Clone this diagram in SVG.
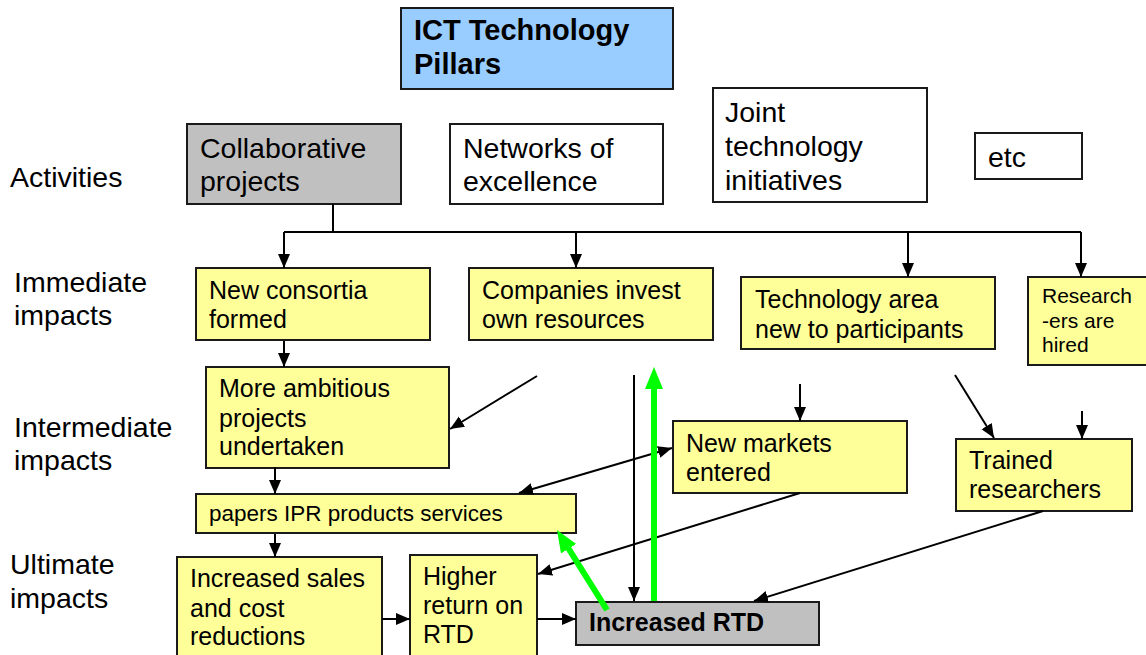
<svg xmlns="http://www.w3.org/2000/svg" width="1146" height="655" viewBox="0 0 1146 655">
<style>
  text { font-family: "Liberation Sans", Arial, sans-serif; fill: #000; }
  .lbl { font-size: 28.5px; }
  .act { font-size: 28.5px; }
  .ttl { font-size: 29px; font-weight: bold; }
  .imp { font-size: 25px; }
  .sm { font-size: 21px; }
  .pap { font-size: 22.5px; }
  .bold { font-weight: bold; }
  .box { stroke: #1a1a1a; stroke-width: 2; }
  .white { fill: #ffffff; }
  .yellow { fill: #ffff99; }
  .gray { fill: #c0c0c0; }
  .blue { fill: #99ccff; }
  .conn { stroke: #000; stroke-width: 2; fill: none; }
  .arr { marker-end: url(#ah); }
  .green { stroke: #00ff00; stroke-width: 6; fill: none; marker-end: url(#gh); }
</style>
<defs>
  <marker id="ah" markerUnits="userSpaceOnUse" markerWidth="15" markerHeight="13" refX="14" refY="6" orient="auto-start-reverse" viewBox="0 0 15 13">
    <path d="M0,0 L14,6 L0,12 z" fill="#000"/>
  </marker>
  <marker id="gh" markerUnits="userSpaceOnUse" markerWidth="24" markerHeight="20" refX="8" refY="9" orient="auto" viewBox="0 0 24 20">
    <path d="M0,0 L22,9 L0,18 z" fill="#00ff00"/>
  </marker>
</defs>

<g id="row-labels">
  <text class="lbl" x="10" y="187">Activities</text>
  <text class="lbl" x="14" y="292">Immediate</text>
  <text class="lbl" x="14" y="325">impacts</text>
  <text class="lbl" x="14" y="437">Intermediate</text>
  <text class="lbl" x="14" y="470">impacts</text>
  <text class="lbl" x="10" y="574">Ultimate</text>
  <text class="lbl" x="10" y="608">impacts</text>
</g>

<g id="title">
  <rect class="box blue" x="401" y="8" width="272" height="81"/>
  <text class="ttl" x="414" y="40">ICT Technology</text>
  <text class="ttl" x="414" y="74">Pillars</text>
</g>

<g id="collaborative">
  <rect class="box gray" x="187" y="124" width="214" height="80"/>
  <text class="act" x="200" y="158">Collaborative</text>
  <text class="act" x="200" y="191">projects</text>
</g>

<g id="networks">
  <rect class="box white" x="450" y="124" width="213" height="80"/>
  <text class="act" x="463" y="158">Networks of</text>
  <text class="act" x="463" y="191">excellence</text>
</g>

<g id="joint">
  <rect class="box white" x="713" y="88" width="214" height="114"/>
  <text class="act" x="725" y="122">Joint</text>
  <text class="act" x="725" y="156">technology</text>
  <text class="act" x="725" y="190">initiatives</text>
</g>

<g id="etc">
  <rect class="box white" x="975" y="133" width="107" height="46"/>
  <text class="act" x="988" y="167">etc</text>
</g>

<g id="new-consortia">
  <rect class="box yellow" x="196" y="268" width="234" height="72"/>
  <text class="imp" x="209" y="299">New consortia</text>
  <text class="imp" x="209" y="328">formed</text>
</g>

<g id="companies">
  <rect class="box yellow" x="469" y="268" width="244" height="72"/>
  <text class="imp" x="482" y="299">Companies invest</text>
  <text class="imp" x="482" y="328">own resources</text>
</g>

<g id="technology-area">
  <rect class="box yellow" x="741" y="277" width="254" height="72"/>
  <text class="imp" x="755" y="308">Technology area</text>
  <text class="imp" x="755" y="338">new to participants</text>
</g>

<g id="researchers-hired">
  <rect class="box yellow" x="1028" y="277" width="122" height="88"/>
  <text class="sm" x="1042" y="303">Research</text>
  <text class="sm" x="1042" y="328">-ers are</text>
  <text class="sm" x="1042" y="352">hired</text>
</g>

<g id="more-ambitious">
  <rect class="box yellow" x="206" y="367" width="243" height="101"/>
  <text class="imp" x="219" y="397">More ambitious</text>
  <text class="imp" x="219" y="427">projects</text>
  <text class="imp" x="219" y="455">undertaken</text>
</g>

<g id="new-markets">
  <rect class="box yellow" x="673" y="421" width="234" height="72"/>
  <text class="imp" x="686" y="452">New markets</text>
  <text class="imp" x="686" y="481">entered</text>
</g>

<g id="trained">
  <rect class="box yellow" x="956" y="439" width="176" height="72"/>
  <text class="imp" x="969" y="469">Trained</text>
  <text class="imp" x="969" y="498">researchers</text>
</g>

<g id="papers">
  <rect class="box yellow" x="196" y="494" width="380" height="39"/>
  <text class="pap" x="209" y="521">papers IPR products services</text>
</g>

<g id="increased-sales">
  <rect class="box yellow" x="177" y="557" width="205" height="105"/>
  <text class="imp" x="190" y="587">Increased sales</text>
  <text class="imp" x="190" y="617">and cost</text>
  <text class="imp" x="190" y="645">reductions</text>
</g>

<g id="higher-return">
  <rect class="box yellow" x="410" y="555" width="127" height="107"/>
  <text class="imp" x="423" y="585">Higher</text>
  <text class="imp" x="423" y="614">return on</text>
  <text class="imp" x="423" y="643">RTD</text>
</g>

<g id="increased-rtd">
  <rect class="box gray" x="576" y="602" width="243" height="43"/>
  <text class="imp bold" x="589" y="631">Increased RTD</text>
</g>

<g id="connectors">
  <path class="conn" d="M333,204 V232 M284,232 H1081"/>
  <line class="conn arr" x1="284" y1="232" x2="284" y2="268"/>
  <line class="conn arr" x1="576" y1="232" x2="576" y2="268"/>
  <line class="conn arr" x1="908" y1="232" x2="908" y2="277"/>
  <line class="conn arr" x1="1081" y1="232" x2="1081" y2="277"/>
  <line class="conn arr" x1="284" y1="341" x2="284" y2="367"/>
  <line class="conn arr" x1="537" y1="376" x2="450" y2="429"/>
  <line class="conn arr" x1="275" y1="467" x2="275" y2="494"/>
  <line class="conn arr" x1="275" y1="534" x2="275" y2="557"/>
  <line class="conn arr" x1="519" y1="493" x2="672" y2="448" marker-start="url(#ah)"/>
  <line class="conn arr" x1="800" y1="384" x2="800" y2="421"/>
  <line class="conn arr" x1="800" y1="493" x2="538" y2="574"/>
  <line class="conn arr" x1="955" y1="375" x2="994" y2="438"/>
  <line class="conn arr" x1="1082" y1="411" x2="1082" y2="439"/>
  <line class="conn arr" x1="1043" y1="511" x2="754" y2="601"/>
  <line class="conn arr" x1="382" y1="619" x2="410" y2="619"/>
  <line class="conn arr" x1="537" y1="619" x2="576" y2="619"/>
  <line class="conn arr" x1="634" y1="375" x2="634" y2="601"/>
  <line class="green" x1="654" y1="601" x2="654" y2="381"/>
  <line class="green" x1="607" y1="610" x2="564.4" y2="541.9"/>
</g>
</svg>
